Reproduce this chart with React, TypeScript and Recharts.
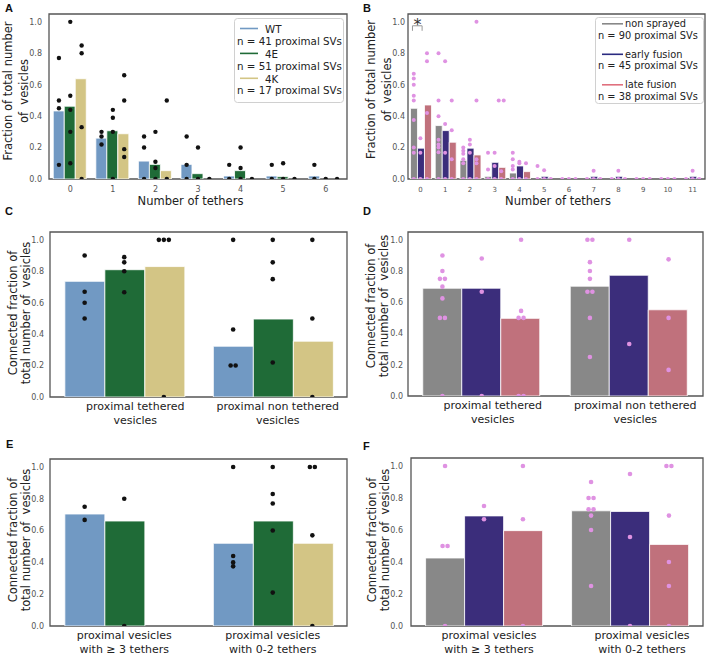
import React from 'react';
import {
  ComposedChart,
  Bar,
  Scatter,
  XAxis,
  YAxis,
  ReferenceArea,
  ReferenceLine,
  ReferenceDot,
  Legend,
} from 'recharts';

const FONT = "'DejaVu Sans', sans-serif";
const TEXT = '#222';
const TICK = '#555';
const FRAME = '#555';
const Y_MAX = 1.05;
const Y_TICKS = [0, 0.2, 0.4, 0.6, 0.8, 1];

// groups
const genoNames = ['WT', '4E', '4K'];
const genoCounts = ['n = 41 proximal SVs', 'n = 51 proximal SVs', 'n = 17 proximal SVs'];
const genoColors = ['#7199c3', '#1f6b37', '#d3c585'];
const fusionNames = ['non sprayed', 'early fusion', 'late fusion'];
const fusionCounts = ['n = 90 proximal SVs', 'n = 45 proximal SVs', 'n = 38 proximal SVs'];
const fusionColors = ['#888888', '#3b2d7b', '#c0717c'];
const fusionLegendColors = ['#888888', '#2a2a80', '#e0707e'];

// A: fraction of vesicles per number of tethers (genotypes)
const tethersA = ['0', '1', '2', '3', '4', '5', '6'];
const fracA_WT = [0.433, 0.26, 0.114, 0.093, 0.019, 0.019, 0.019];
const fracA_4E = [0.463, 0.307, 0.093, 0.034, 0.053, 0.015, 0];
const fracA_4K = [0.638, 0.288, 0.053, 0, 0, 0, 0];
const dotsA_WT = [[0.09, 0.45, 0.5, 0.77], [0.3, 0.27, 0.22], [0.27, 0.2, 0], [0.27, 0.09, 0], [0.09, 0], [0.09, 0], [0.09, 0]];
const dotsA_4E = [[1.0, 0.53, 0.44, 0.3, 0.1], [0.44, 0.39, 0.3, 0], [0.3, 0.11, 0.07, 0], [0.2, 0], [0.2, 0.07, 0], [0.1, 0], [0]];
const dotsA_4K = [[0.85, 0.8, 0.33, 0], [0.66, 0.5, 0.19, 0.14], [0.5, 0], [0], [0], [0], [0]];

// B: fraction of vesicles per number of tethers (fusion state)
const tethersB = ['0', '1', '2', '3', '4', '5', '6', '7', '8', '9', '10', '11'];
const fracB_non = [0.45, 0.34, 0.119, 0.017, 0.038, 0, 0, 0, 0, 0, 0, 0];
const fracB_early = [0.196, 0.308, 0.196, 0.106, 0.083, 0.017, 0, 0.017, 0.017, 0, 0, 0.017];
const fracB_late = [0.471, 0.234, 0.153, 0.074, 0.047, 0, 0, 0, 0, 0, 0, 0];
const dotsB_non = [
  [0.67, 0.64, 0.6, 0.53, 0.5, 0.375, 0.2, 0.167, 0],
  [0.8, 0.5, 0.4, 0.25, 0.22, 0.2, 0.17, 0],
  [0.2, 0.18, 0.16, 0.125, 0.1, 0],
  [0.167, 0.06, 0],
  [0.167, 0.125, 0.083, 0.06, 0],
  [0.083, 0], [0], [0], [0], [0], [0], [0],
];
const dotsB_early = [
  [0.26, 0.167, 0],
  [0.75, 0.35, 0.167, 0],
  [0.25, 0.22, 0.167, 0],
  [0.167, 0.083, 0],
  [0.11, 0.1, 0],
  [0.056, 0], [0], [0.053, 0], [0.053, 0], [0], [0], [0.053, 0],
];
const dotsB_late = [
  [0.8, 0.75, 0.42, 0],
  [0.5, 0.31, 0.125, 0],
  [1.0, 0.5, 0.125, 0.1, 0],
  [0.5, 0.5, 0.05, 0],
  [0.1, 0],
  [0], [0], [0], [0], [0], [0], [0],
];

// C / D: tethered vs non tethered
const tetherClasses = [['proximal tethered', 'vesicles'], ['proximal non tethered', 'vesicles']];
const connC_WT = [0.736, 0.323];
const connC_4E = [0.81, 0.496];
const connC_4K = [0.83, 0.355];
const dotsC_WT = [[0.9, 0.67, 0.6, 0.5], [1.0, 0.43, 0.2, 0.2]];
const dotsC_4E = [[0.89, 0.857, 0.8, 0.667], [1.0, 0.857, 0.75, 0.22]];
const dotsC_4K = [[1, 1, 1, 0], [1, 0.5, 0]];

const connD_non = [0.69, 0.703];
const connD_early = [0.69, 0.773];
const connD_late = [0.497, 0.552];
const dotsD_non = [[0.9, 0.8, 0.75, 0.75, 0.7, 0.625, 0.5, 0.5, 0], [1, 1, 0.857, 0.8, 0.75, 0.667, 0.667, 0.5, 0.25]];
const dotsD_early = [[0.88, 0.667, 0], [1.0, 0.333]];
const dotsD_late = [[1.0, 0.545, 0.5, 0.5, 0, 0], [0.875, 0.5, 0.167]];

// E / F: by tether count class
const countClasses = [['proximal vesicles', 'with \u2265 3 tethers'], ['proximal vesicles', 'with 0-2 tethers']];
const connE_WT = [0.704, 0.52];
const connE_4E = [0.66, 0.66];
const connE_4K = [null, 0.52];
const dotsE_WT = [[0.75, 0.667], [1.0, 0.44, 0.4, 0.375]];
const dotsE_4E = [[0.8, 0], [1.0, 0.83, 0.77, 0.6, 0.21]];
const dotsE_4K = [[], [1, 1, 0.57, 0]];

const connF_non = [0.425, 0.72];
const connF_early = [0.688, 0.716];
const connF_late = [0.596, 0.51];
const dotsF_non = [[1.0, 0.5, 0.5, 0], [0.9, 0.8, 0.8, 0.73, 0.73, 0.69, 0.6, 0.25]];
const dotsF_early = [[0.75, 0.667], [0.95, 0.556, 0]];
const dotsF_late = [[1.0, 0.667, 0], [1, 1, 0.69, 0.4, 0.25, 0]];

type LegendCfg = {
  x: number; y: number; w: number; h: number; font: number;
  names: string[]; counts: string[]; colors: string[];
  hx: [number, number]; hy: number; tx: number; ty: number; nx: number; ny: number; pitch: number;
};

type PanelCfg = {
  fx: number; fy: number; fw: number; fh: number; axisH: number;
  cats: string[][];
  bars: (number | null)[][];
  dots: number[][][];
  colors: string[];
  dotColor: string;
  dotR: number;
  xTickFont: number;
  xTickMargin: number;
  yTickGap: number;
  yLabel: [string, string];
  yLabelX: [number, number];
  yLabelY: number;
  xLabel?: string;
  xLabelX?: number;
  xLabelY?: number;
  catDx?: number[];
  legend?: LegendCfg;
  bracket?: boolean;
};

function LegendBox({ l }: { l: LegendCfg }) {
  return (
    <svg width={l.w} height={l.h} style={{ display: 'block' }}>
      <rect x={0.5} y={0.5} width={l.w - 1} height={l.h - 1} rx={3} fill="#fff" fillOpacity={0.85} stroke="#d0d0d0" />
      {l.names.map((nm, i) => (
        <g key={nm} fontFamily={FONT} fontSize={l.font} fill={TEXT}>
          <line x1={l.hx[0]} x2={l.hx[1]} y1={l.hy + i * l.pitch} y2={l.hy + i * l.pitch} stroke={l.colors[i]} strokeWidth={1.6} />
          <text x={l.tx} y={l.ty + i * l.pitch}>{nm}</text>
          <text x={l.nx} y={l.ny + i * l.pitch}>{l.counts[i]}</text>
        </g>
      ))}
    </svg>
  );
}

function Panel({ c }: { c: PanelCfg }) {
  const left = c.fx - 50;
  const top = c.fy - 14;
  const width = c.fw + 54;
  const height = c.fh + 14 + c.axisH;
  const n = c.cats.length;
  const G = c.bars.length;
  const slot = 0.8 / G;
  const domainX: [number, number] = [-0.5, n - 0.5];
  const ticks = c.cats.map((_, i) => i);
  const numeric = c.cats.every((l) => l.length === 1);

  const data = c.cats.map((_, i) => {
    const row: Record<string, number | null> = { x: i };
    c.bars.forEach((b, g) => {
      row['g' + g] = b[i];
    });
    return row;
  });

  // strip plot points, identical values dodged side by side
  const dotSets = c.dots.map((perCat, g) =>
    perCat.flatMap((vals, i) =>
      vals.map((v, j) => {
        const same = vals.filter((u) => u === v).length;
        const k = vals.slice(0, j).filter((u) => u === v).length;
        return { x: i + (g - (G - 1) / 2) * slot, y: v, k: k - (same - 1) / 2 };
      })
    )
  );

  const yLabel = () => {
    const cy = c.yLabelY - top;
    return (
      <g>
        {c.yLabel.map((t, j) => {
          const x = c.yLabelX[j] - left;
          return (
            <text
              key={j}
              x={x}
              y={cy}
              transform={`rotate(-90 ${x} ${cy})`}
              textAnchor="middle"
              fontSize={11.5}
              fontFamily={FONT}
              fill={TEXT}
              style={{ whiteSpace: 'pre' }}
            >
              {t}
            </text>
          );
        })}
      </g>
    );
  };

  const xLabel = () =>
    c.xLabel ? (
      <text
        x={(c.xLabelX ?? 0) - left}
        y={(c.xLabelY ?? 0) - top}
        textAnchor="middle"
        fontSize={11.5}
        fontFamily={FONT}
        fill={TEXT}
      >
        {c.xLabel}
      </text>
    ) : null;

  const catTick = (p: any) => {
    const i = p.payload.value as number;
    const lines = c.cats[i] ?? [];
    const x = p.x + (c.catDx?.[i] ?? 0);
    return (
      <text x={x} y={p.y} textAnchor="middle" fontSize={11} fontFamily={FONT} fill={TEXT}>
        {lines.map((l, j) => (
          <tspan key={j} x={x} y={p.y + 13 + 14 * j}>
            {l}
          </tspan>
        ))}
      </text>
    );
  };

  return (
    <div style={{ position: 'absolute', left, top }}>
      <ComposedChart
        width={width}
        height={height}
        data={data}
        margin={{ top: 14, right: 4, bottom: 0, left: 0 }}
        barCategoryGap="10%"
        barGap={0}
      >
        <XAxis
          xAxisId="cat"
          dataKey="x"
          type="number"
          domain={domainX}
          ticks={ticks}
          interval={0}
          allowDataOverflow
          axisLine={false}
          tickLine={false}
          tickSize={0}
          tickMargin={numeric ? c.xTickMargin : 0}
          height={c.axisH}
          tickFormatter={(v: number) => c.cats[v]?.[0] ?? ''}
          tick={numeric ? { fontSize: c.xTickFont, fill: TICK, fontFamily: FONT } : catTick}
          label={xLabel}
        />
        <XAxis xAxisId="dot" dataKey="x" type="number" domain={domainX} allowDataOverflow hide />
        <YAxis
          type="number"
          domain={[0, Y_MAX]}
          ticks={Y_TICKS}
          allowDataOverflow
          width={50}
          axisLine={false}
          tickLine={false}
          tickSize={0}
          tickMargin={c.yTickGap}
          tickFormatter={(v: number) => v.toFixed(1)}
          tick={{ fontSize: 8, fill: TICK, fontFamily: FONT }}
          label={yLabel}
        />
        <ReferenceArea
          xAxisId="cat"
          x1={-0.5}
          x2={n - 0.5}
          y1={0}
          y2={Y_MAX}
          fill="none"
          stroke={FRAME}
          strokeWidth={1.3}
          ifOverflow="visible"
        />
        {c.bars.map((_, g) => (
          <Bar
            key={'bar' + g}
            xAxisId="cat"
            dataKey={'g' + g}
            fill={c.colors[g]}
            stroke="#fff"
            strokeWidth={0.8}
            isAnimationActive={false}
          />
        ))}
        {dotSets.map((pts, g) => (
          <Scatter
            key={'dots' + g}
            xAxisId="dot"
            data={pts}
            dataKey="y"
            isAnimationActive={false}
            shape={(p: any) => (
              <circle cx={p.cx + (p.payload?.k ?? 0) * 5} cy={p.cy} r={c.dotR} fill={c.dotColor} />
            )}
          />
        ))}
        {c.bracket && (
          <>
            <ReferenceLine xAxisId="cat" segment={[{ x: -0.32, y: 0.975 }, { x: 0.07, y: 0.975 }]} stroke="#999" strokeWidth={1} ifOverflow="visible" />
            <ReferenceLine xAxisId="cat" segment={[{ x: -0.32, y: 0.975 }, { x: -0.32, y: 0.943 }]} stroke="#999" strokeWidth={1} ifOverflow="visible" />
            <ReferenceLine xAxisId="cat" segment={[{ x: 0.07, y: 0.975 }, { x: 0.07, y: 0.943 }]} stroke="#999" strokeWidth={1} ifOverflow="visible" />
            <ReferenceDot
              xAxisId="cat"
              x={-0.12}
              y={0.975}
              r={0}
              fill="none"
              stroke="none"
              ifOverflow="visible"
              label={(p: any) => (
                <text x={p.viewBox?.x ?? 0} y={(p.viewBox?.y ?? 0) + 4} textAnchor="middle" fontSize={16} fontFamily={FONT} fill="#333">
                  *
                </text>
              )}
            />
          </>
        )}
        {c.legend && (
          <Legend
            layout="vertical"
            align="center"
            verticalAlign="middle"
            content={() => <LegendBox l={c.legend as LegendCfg} />}
            wrapperStyle={{ left: c.legend.x - left, top: c.legend.y - top, width: c.legend.w, height: c.legend.h }}
          />
        )}
      </ComposedChart>
    </div>
  );
}

const panelA: PanelCfg = {
  fx: 49, fy: 14, fw: 298, fh: 165, axisH: 40,
  cats: tethersA.map((t) => [t]),
  bars: [fracA_WT, fracA_4E, fracA_4K],
  dots: [dotsA_WT, dotsA_4E, dotsA_4K],
  colors: genoColors, dotColor: '#111', dotR: 2.2,
  xTickFont: 8, xTickMargin: 7.5, yTickGap: 7,
  yLabel: ['Fraction of total number', 'of  vesicles'], yLabelX: [12, 28], yLabelY: 91,
  xLabel: 'Number of tethers', xLabelX: 190.5, xLabelY: 205,
  legend: {
    x: 234, y: 18, w: 110, h: 85, font: 10.3,
    names: genoNames, counts: genoCounts, colors: genoColors,
    hx: [6, 24], hy: 10.5, tx: 31, ty: 14.7, nx: 3, ny: 26.6, pitch: 24.9,
  },
};

const panelB: PanelCfg = {
  fx: 408, fy: 14, fw: 297, fh: 165, axisH: 40,
  cats: tethersB.map((t) => [t]),
  bars: [fracB_non, fracB_early, fracB_late],
  dots: [dotsB_non, dotsB_early, dotsB_late],
  colors: fusionColors, dotColor: '#df92e2', dotR: 2.0,
  xTickFont: 7, xTickMargin: 8.5, yTickGap: 3,
  yLabel: ['Fraction of total number', 'of  vesicles'], yLabelX: [375, 391], yLabelY: 89.5,
  xLabel: 'Number of tethers', xLabelX: 558, xLabelY: 205,
  bracket: true,
  legend: {
    x: 595, y: 17, w: 109, h: 87, font: 9.8,
    names: fusionNames, counts: fusionCounts, colors: fusionLegendColors,
    hx: [7, 28], hy: 6.8, tx: 30, ty: 10.3, nx: 3, ny: 21.9, pitch: 30.5,
  },
};

const panelC: PanelCfg = {
  fx: 50, fy: 232, fw: 297, fh: 165, axisH: 40,
  cats: tetherClasses,
  bars: [connC_WT, connC_4E, connC_4K],
  dots: [dotsC_WT, dotsC_4E, dotsC_4K],
  colors: genoColors, dotColor: '#111', dotR: 2.3,
  xTickFont: 11, xTickMargin: 0, yTickGap: 6,
  yLabel: ['Connected fraction of', 'total number of  vesicles'], yLabelX: [16.5, 30], yLabelY: 313,
  catDx: [11, 5],
};

const panelD: PanelCfg = {
  fx: 408, fy: 232, fw: 295, fh: 164, axisH: 40,
  cats: tetherClasses,
  bars: [connD_non, connD_early, connD_late],
  dots: [dotsD_non, dotsD_early, dotsD_late],
  colors: fusionColors, dotColor: '#df92e2', dotR: 2.3,
  xTickFont: 11, xTickMargin: 0, yTickGap: 5,
  yLabel: ['Connected fraction of', 'total number of  vesicles'], yLabelX: [375, 388], yLabelY: 306,
  catDx: [11, 6],
};

const panelE: PanelCfg = {
  fx: 50, fy: 459, fw: 297, fh: 167, axisH: 30,
  cats: countClasses,
  bars: [connE_WT, connE_4E, connE_4K],
  dots: [dotsE_WT, dotsE_4E, dotsE_4K],
  colors: genoColors, dotColor: '#111', dotR: 2.3,
  xTickFont: 11, xTickMargin: 0, yTickGap: 6,
  yLabel: ['Connected fraction of', 'total number of  vesicles'], yLabelX: [16.5, 30], yLabelY: 540,
  catDx: [0, 0],
};

const panelF: PanelCfg = {
  fx: 411, fy: 458, fw: 292, fh: 168, axisH: 30,
  cats: countClasses,
  bars: [connF_non, connF_early, connF_late],
  dots: [dotsF_non, dotsF_early, dotsF_late],
  colors: fusionColors, dotColor: '#df92e2', dotR: 2.3,
  xTickFont: 11, xTickMargin: 0, yTickGap: 8,
  yLabel: ['Connected fraction of', 'total number of  vesicles'], yLabelX: [376, 389], yLabelY: 540,
  catDx: [5, 12],
};

const panelLetters = [
  { t: 'A', x: 5, y: 11.7 },
  { t: 'B', x: 363, y: 11.7 },
  { t: 'C', x: 5, y: 215 },
  { t: 'D', x: 363, y: 215 },
  { t: 'E', x: 6, y: 448.3 },
  { t: 'F', x: 363, y: 450 },
];

export default function App() {
  return (
    <div
      style={{
        position: 'absolute',
        left: 0,
        top: 0,
        width: 709,
        height: 656,
        overflow: 'hidden',
        background: '#fff',
      }}
    >
      {[panelA, panelB, panelC, panelD, panelE, panelF].map((c, i) => (
        <Panel key={i} c={c} />
      ))}
      <svg width={709} height={656} style={{ position: 'absolute', left: 0, top: 0, pointerEvents: 'none' }}>
        {panelLetters.map((l) => (
          <text key={l.t} x={l.x} y={l.y} fontSize={11} fontWeight="bold" fontFamily="'Liberation Sans', Arial, sans-serif" fill="#111">
            {l.t}
          </text>
        ))}
      </svg>
    </div>
  );
}
